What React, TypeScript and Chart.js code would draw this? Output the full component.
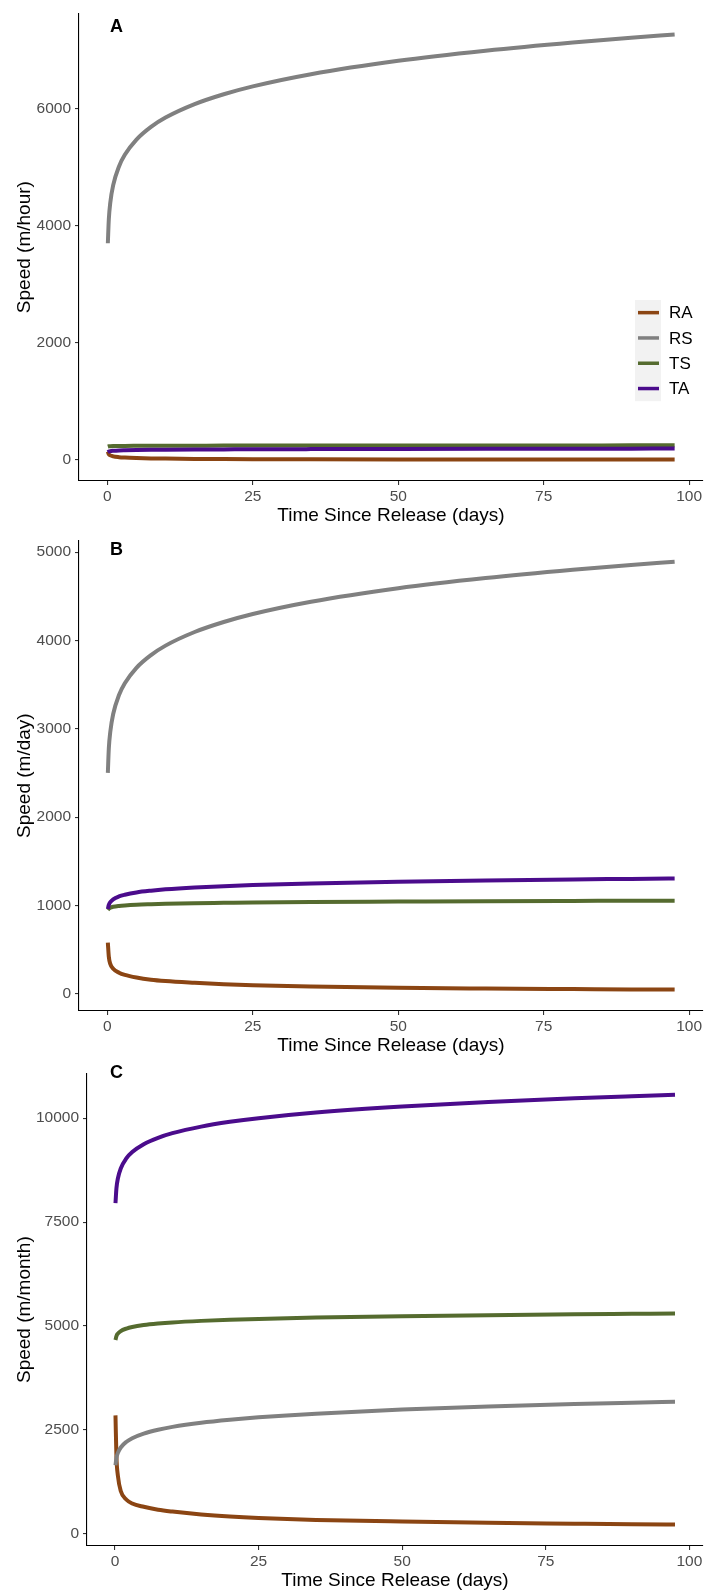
import React, { useEffect, useRef } from "react";
import { Chart, registerables } from "chart.js";

Chart.register(...registerables);

// ---- data ----
const days = [0.083, 0.25, 0.5, 1, 2, 3, 5, 7.5, 10, 15, 20, 25, 35, 50, 65, 80, 90, 97.5];
const seriesNames = ["RA", "RS", "TS", "TA"];
const seriesColors = ["#8B4513", "#808080", "#556B2F", "#4B0C8C"];
const xTicks = [0, 25, 50, 75, 100];

// Panel A (m/hour)
const hourRA = [140, 95, 75, 58, 44, 37, 29, 23, 20, 15, 12, 10, 8, 6, 5, 4, 3, 3];
const hourRS = [3700, 4111, 4393, 4693, 5014, 5212, 5472, 5689, 5848, 6078, 6247, 6382, 6590, 6819, 6991, 7132, 7213, 7268];
const hourTS = [225, 230, 232, 234, 236, 237, 238, 239, 240, 241, 242, 242, 243, 244, 245, 245, 246, 246];
const hourTA = [128, 140, 147, 153, 160, 163, 167, 170, 172, 175, 177, 179, 182, 185, 187, 189, 190, 191];
const hourTicks = [0, 2000, 4000, 6000];

// Panel B (m/day)
const dayRA = [580, 420, 340, 285, 240, 215, 185, 160, 145, 125, 108, 97, 83, 68, 60, 54, 50, 48];
const dayRS = [2501, 2777, 2965, 3167, 3382, 3515, 3690, 3834, 3941, 4095, 4208, 4299, 4438, 4591, 4706, 4800, 4854, 4891];
const dayTS = [949, 965, 975, 985, 995, 1001, 1009, 1015, 1020, 1026, 1030, 1034, 1039, 1044, 1049, 1052, 1054, 1055];
const dayTA = [960, 1007, 1038, 1070, 1103, 1122, 1148, 1168, 1183, 1204, 1219, 1231, 1249, 1268, 1283, 1295, 1301, 1306];
const dayTicks = [0, 1000, 2000, 3000, 4000, 5000];

// Panel C (m/month)
const monthRA = [2850, 1850, 1400, 1030, 820, 730, 650, 580, 535, 465, 415, 380, 335, 295, 265, 245, 232, 224];
const monthRS = [1648, 1826, 1947, 2077, 2215, 2301, 2412, 2505, 2573, 2672, 2744, 2802, 2891, 2988, 3062, 3122, 3156, 3180];
const monthTS = [4663, 4757, 4817, 4878, 4939, 4976, 5022, 5059, 5086, 5123, 5150, 5171, 5202, 5236, 5261, 5281, 5292, 5300];
const monthTA = [7954, 8314, 8548, 8789, 9037, 9185, 9374, 9528, 9639, 9797, 9911, 10000, 10136, 10282, 10390, 10477, 10527, 10562];
const monthTicks = [0, 2500, 5000, 7500, 10000];

const FONT = '"Liberation Sans", Arial, Helvetica, sans-serif';

type PanelProps = {
  top: number;
  height: number;
  yWidth: number;
  padTop: number;
  yMin: number;
  yMax: number;
  yTicks: number[];
  yTitle: string;
  letter: string;
  letterY: number;
  series: number[][];
  legend: boolean;
};

function Panel(p: PanelProps) {
  const ref = useRef<HTMLCanvasElement | null>(null);
  useEffect(() => {
    if (!ref.current) return;
    const overlay = {
      id: "overlay",
      afterDatasetsDraw(chart: any) {
        const ctx = chart.ctx as CanvasRenderingContext2D;
        ctx.save();
        ctx.fillStyle = "#000";
        ctx.font = `bold 18px ${FONT}`;
        ctx.textBaseline = "middle";
        ctx.textAlign = "left";
        ctx.fillText(p.letter, 110, p.letterY);
        if (p.legend) {
          const keyTop = 300;
          const keyH = 25.3;
          ctx.fillStyle = "#F2F2F2";
          ctx.fillRect(635, keyTop, 26, keyH * seriesNames.length);
          seriesNames.forEach((name, i) => {
            const cy = keyTop + keyH * (i + 0.5);
            ctx.strokeStyle = seriesColors[i];
            ctx.lineWidth = 3.5;
            ctx.beginPath();
            ctx.moveTo(638, cy);
            ctx.lineTo(659, cy);
            ctx.stroke();
            ctx.fillStyle = "#000";
            ctx.font = `17px ${FONT}`;
            ctx.fillText(name, 669, cy + 1);
          });
        }
        ctx.restore();
      },
    };
    const chart = new Chart(ref.current, {
      type: "line",
      data: {
        datasets: seriesNames.map((name, i) => ({
          label: name,
          data: days.map((d, j) => ({ x: d, y: p.series[i][j] })),
          borderColor: seriesColors[i],
          backgroundColor: seriesColors[i],
          borderWidth: 4,
          pointRadius: 0,
          fill: false,
          cubicInterpolationMode: "monotone" as const,
          order: seriesNames.length - i,
        })),
      },
      options: {
        animation: false,
        responsive: false,
        events: [],
        layout: { padding: { top: p.padTop, right: 4, left: 0, bottom: 0 } },
        plugins: { legend: { display: false }, tooltip: { enabled: false } },
        scales: {
          x: {
            type: "linear",
            min: -4.875,
            max: 102.375,
            afterBuildTicks: (s: any) => {
              s.ticks = xTicks.map((v) => ({ value: v }));
            },
            afterFit: (s: any) => {
              s.height = 46;
            },
            border: { display: true, color: "#000", width: 1.1 },
            grid: { drawOnChartArea: false, drawTicks: true, tickLength: 4, color: "#333", lineWidth: 1.1 },
            ticks: {
              color: "#4D4D4D",
              font: { family: FONT, size: 15.5 },
              padding: 2,
              maxRotation: 0,
              autoSkip: false,
              callback: (v: any) => String(v),
            },
            title: {
              display: true,
              text: "Time Since Release (days)",
              color: "#000",
              font: { family: FONT, size: 19 },
              padding: { top: 0, bottom: 0 },
            },
          },
          y: {
            type: "linear",
            min: p.yMin,
            max: p.yMax,
            afterBuildTicks: (s: any) => {
              s.ticks = p.yTicks.map((v) => ({ value: v }));
            },
            afterFit: (s: any) => {
              s.width = p.yWidth;
            },
            border: { display: true, color: "#000", width: 1.1 },
            grid: { drawOnChartArea: false, drawTicks: true, tickLength: 4, color: "#333", lineWidth: 1.1 },
            ticks: {
              color: "#4D4D4D",
              font: { family: FONT, size: 15.5 },
              padding: 4,
              autoSkip: false,
              callback: (v: any) => String(v),
            },
            title: {
              display: true,
              text: p.yTitle,
              color: "#000",
              font: { family: FONT, size: 19 },
              padding: { top: 13, bottom: 0 },
            },
          },
        },
      },
      plugins: [overlay],
    });
    return () => chart.destroy();
  }, []);
  return (
    <canvas
      ref={ref}
      width={707}
      height={p.height}
      style={{ position: "absolute", left: 0, top: p.top, width: 707, height: p.height }}
    />
  );
}

export default function App() {
  return (
    <div style={{ position: "absolute", left: 0, top: 0, width: 707, height: 1593, background: "#fff" }}>
      <Panel
        top={0}
        height={527}
        yWidth={79}
        padTop={6.7}
        yMin={-363}
        yMax={7631}
        yTicks={hourTicks}
        yTitle="Speed (m/hour)"
        letter="A"
        letterY={27}
        series={[hourRA, hourRS, hourTS, hourTA]}
        legend={true}
      />
      <Panel
        top={527}
        height={530}
        yWidth={79}
        padTop={9.7}
        yMin={-194}
        yMax={5133}
        yTicks={dayTicks}
        yTitle="Speed (m/day)"
        letter="B"
        letterY={22.7}
        series={[dayRA, dayRS, dayTS, dayTA]}
        legend={false}
      />
      <Panel
        top={1057}
        height={535}
        yWidth={87}
        padTop={16.3}
        yMin={-293}
        yMax={11079}
        yTicks={monthTicks}
        yTitle="Speed (m/month)"
        letter="C"
        letterY={16}
        series={[monthRA, monthRS, monthTS, monthTA]}
        legend={false}
      />
    </div>
  );
}
